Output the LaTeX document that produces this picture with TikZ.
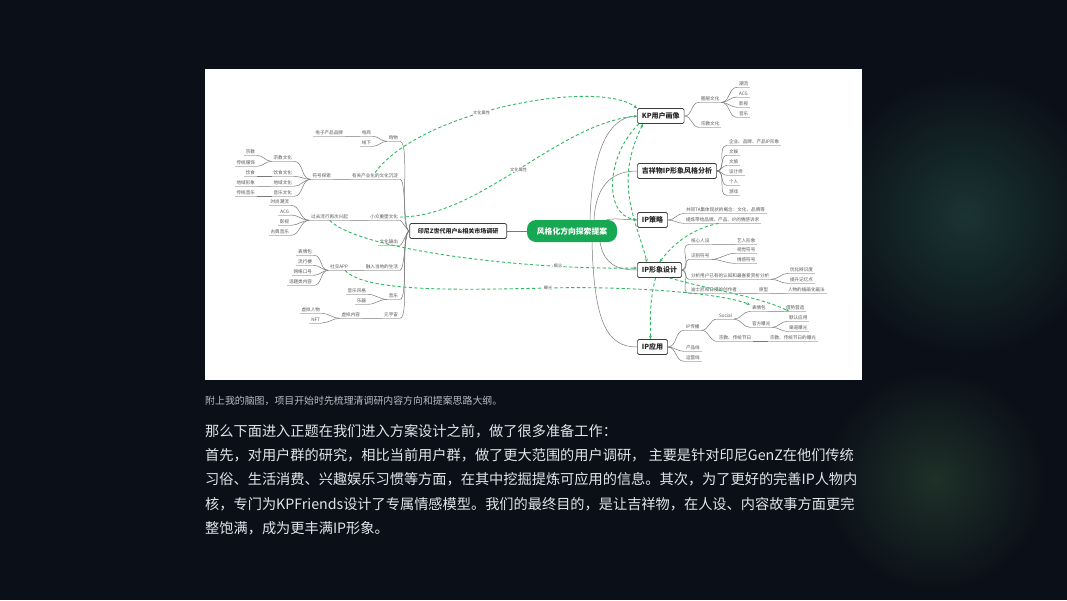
\documentclass[tikz,border=0pt]{standalone}
\usepackage{fontspec}
\setmainfont{Noto Sans CJK SC}
\usepackage{tikz}
\usetikzlibrary{positioning,arrows.meta,calc}
\definecolor{slidebg}{RGB}{11,16,24}
\definecolor{glowteal}{RGB}{26,52,50}
\definecolor{glowmoss}{RGB}{30,48,40}
\definecolor{mapgreen}{RGB}{22,168,82}
\definecolor{relgreen}{RGB}{46,184,96}
\definecolor{inkgray}{RGB}{85,85,85}
\definecolor{linegray}{RGB}{120,120,120}
\definecolor{ulgray}{RGB}{195,195,195}
\definecolor{paratext}{RGB}{226,229,234}
\definecolor{captext}{RGB}{185,189,196}

\tikzset{
  cnode/.style={fill=mapgreen, rounded corners=9pt, text=white, inner sep=0pt,
    font=\fontsize{7.8}{9}\selectfont\bfseries, minimum width=90pt, minimum height=22pt},
  mbox/.style={draw=inkgray!70!black, line width=0.7pt, rounded corners=1.5pt, fill=white,
    font=\fontsize{7}{8}\selectfont\bfseries, text=black!85, inner xsep=4.5pt, inner ysep=0pt,
    minimum height=15pt},
  uline/.style={draw=ulgray, line width=0.45pt},
  leaf/.style={font=\fontsize{4.6}{5}\selectfont, text=inkgray, inner xsep=1.8pt, inner ysep=1pt,
    append after command={(\tikzlastnode.south west) edge[uline] (\tikzlastnode.south east)}},
  tp/.style={draw=linegray, line width=0.5pt},
  rel/.style={draw=relgreen, line width=0.9pt, dash pattern=on 3.2pt off 2.4pt,
    -{Stealth[length=3.4pt,width=3pt]}},
  rlab/.style={font=\fontsize{4.2}{5}\selectfont, text=inkgray, fill=white, inner sep=0.6pt}
}

\begin{document}
\begin{tikzpicture}[x=1pt, y=-1pt]
  \useasboundingbox (0,0) rectangle (1067,600);
  \begin{scope}
    \clip (0,0) rectangle (1067,600);
    \fill[slidebg] (0,0) rectangle (1067,600);
    \shade[inner color=glowteal, outer color=slidebg] (965,215) circle (140pt);
    \shade[inner color=glowmoss, outer color=slidebg] (935,480) circle (110pt);
  \end{scope}

  % screenshot of the mind map
  \fill[white] (205,69) rectangle (862,380);

  \node[cnode] (core) at (572,231) {风格化方向探索提案};
  \node[mbox, font=\fontsize{6}{7}\selectfont\bfseries, minimum width=97pt, anchor=east]
      (survey) at (507,231) {印尼Z世代用户\&相关市场调研};

  \node[mbox, anchor=west] (persona)  at (637,116) {KP用户画像};
  \node[mbox, anchor=west] (style)    at (637,171) {吉祥物IP形象风格分析};
  \node[mbox, anchor=west] (strategy) at (637,220) {IP策略};
  \node[mbox, anchor=west] (design)   at (637,270) {IP形象设计};
  \node[mbox, anchor=west] (apply)    at (637,347) {IP应用};

  % right side leaves
  \node[leaf, anchor=west] (pCircle) at (699,99)  {圈层文化};
  \node[leaf, anchor=west] (pTrend)  at (737,84)  {潮流};
  \node[leaf, anchor=west] (pAcg)    at (737,94)  {ACG};
  \node[leaf, anchor=west] (pFilm)   at (737,104) {影视};
  \node[leaf, anchor=west] (pMusic)  at (737,114) {音乐};
  \node[leaf, anchor=west] (pFaith)  at (699,124) {宗教文化};

  \node[leaf, anchor=west] (sBrand)    at (727,142) {企业、品牌、产品IP形象};
  \node[leaf, anchor=west] (sEnt)      at (727,152) {文娱};
  \node[leaf, anchor=west] (sTour)     at (727,162) {文旅};
  \node[leaf, anchor=west] (sDesigner) at (727,172) {设计师};
  \node[leaf, anchor=west] (sPerson)   at (727,182) {个人};
  \node[leaf, anchor=west] (sGame)     at (727,192) {游戏};

  \node[leaf, anchor=west] (gConcept) at (684,210) {共同TA集体现状的概念：文化、品牌等};
  \node[leaf, anchor=west] (gEmotion) at (684,220) {提炼带给品牌、产品、IP的情感诉求};

  \node[leaf, anchor=west] (dCore)    at (689,241) {核心人设};
  \node[leaf, anchor=west] (dStar)    at (735,241) {艺人形象};
  \node[leaf, anchor=west] (dSign)    at (689,256) {识别符号};
  \node[leaf, anchor=west] (dVisual)  at (735,250) {视觉符号};
  \node[leaf, anchor=west] (dFeel)    at (735,260) {情感符号};
  \node[leaf, anchor=west] (dAnalyze) at (689,276) {分析用户已有的认知和最喜爱赏析分析};
  \node[leaf, anchor=west] (dRecog)   at (788,270) {优化辨识度};
  \node[leaf, anchor=west] (dMemory)  at (788,280) {提升记忆点};
  \node[leaf, anchor=west] (dCreator) at (689,290) {迪士尼和日漫的创作者};
  \node[leaf, anchor=west] (dProto)   at (757,290) {原型};
  \node[leaf, anchor=west] (dDraw)    at (786,290) {人物的插画化画法};

  \node[leaf, anchor=west] (aSpread)   at (684,327) {IP传播};
  \node[leaf, anchor=west] (aSocial)   at (717,316) {Social};
  \node[leaf, anchor=west] (aEmoji)    at (750,308) {表情包};
  \node[leaf, anchor=west] (aTrend)    at (784,308) {借势营造};
  \node[leaf, anchor=west] (aOfficial) at (750,324) {官方曝光};
  \node[leaf, anchor=west] (aDefault)  at (787,318) {默认应用};
  \node[leaf, anchor=west] (aChannel)  at (787,328) {渠道曝光};
  \node[leaf, anchor=west] (aFest)     at (717,338) {宗教、传统节日};
  \node[leaf, anchor=west] (aFestShow) at (768,338) {宗教、传统节日的曝光};
  \node[leaf, anchor=west] (aProduct)  at (684,348) {产品线};
  \node[leaf, anchor=west] (aOps)      at (684,358) {运营线};

  % left side leaves
  \node[leaf, anchor=east] (lShop)    at (400,138) {购物};
  \node[leaf, anchor=east] (lOnline)  at (373,133) {电商};
  \node[leaf, anchor=east] (lBrand)   at (345,133) {电子产品品牌};
  \node[leaf, anchor=east] (lOffline) at (373,143) {线下};

  \node[leaf, anchor=east] (lHeritage) at (400,176) {有关产业化的文化沉淀};
  \node[leaf, anchor=east] (lSymbol)   at (333,176) {符号探索};
  \node[leaf, anchor=east] (lReligion) at (294,158) {宗教文化};
  \node[leaf, anchor=east] (lFaith)    at (257,152) {宗教};
  \node[leaf, anchor=east] (lDress)    at (257,163) {传统服饰};
  \node[leaf, anchor=east] (lFood)     at (294,173) {饮食文化};
  \node[leaf, anchor=east] (lEat)      at (257,173) {饮食};
  \node[leaf, anchor=east] (lRegion)   at (294,183) {地域文化};
  \node[leaf, anchor=east] (lPlace)    at (257,183) {地域形象};
  \node[leaf, anchor=east] (lTune)     at (294,193) {音乐文化};
  \node[leaf, anchor=east] (lFolk)     at (257,193) {传统音乐};

  \node[leaf, anchor=east] (lNiche)    at (400,217) {小众重塑文化};
  \node[leaf, anchor=east] (lRevive)   at (350,217) {过去流行再次兴起};
  \node[leaf, anchor=east] (lFashion)  at (291,202) {时尚潮流};
  \node[leaf, anchor=east] (lAcg)      at (291,212) {ACG};
  \node[leaf, anchor=east] (lMovie)    at (291,222) {影视};
  \node[leaf, anchor=east] (lClassic)  at (291,232) {古典音乐};

  \node[leaf, anchor=east] (lExport)   at (400,242) {文化输出};

  \node[leaf, anchor=east] (lLocal)    at (400,267) {融入当地的生活};
  \node[leaf, anchor=east] (lApp)      at (350,267) {社交APP};
  \node[leaf, anchor=east] (lSticker)  at (314,252) {表情包};
  \node[leaf, anchor=east] (lMeme)     at (314,262) {流行梗};
  \node[leaf, anchor=east] (lSlogan)   at (314,272) {网络口号};
  \node[leaf, anchor=east] (lTopic)    at (314,282) {话题类内容};

  \node[leaf, anchor=east] (lMusic)    at (400,296) {音乐};
  \node[leaf, anchor=east] (lGenre)    at (368,291) {音乐风格};
  \node[leaf, anchor=east] (lInstr)    at (368,301) {乐器};

  \node[leaf, anchor=east] (lMeta)     at (400,315) {元宇宙};
  \node[leaf, anchor=east] (lVirtual)  at (362,315) {虚拟内容};
  \node[leaf, anchor=east] (lAvatar)   at (322,310) {虚拟人物};
  \node[leaf, anchor=east] (lNft)      at (322,320) {NFT};

  % tree lines
  \draw[tp] (survey.east) -- (core.west);
  \draw[tp] ([xshift=18pt]core.north) .. controls +(2,-70) and +(-28,0) .. (persona.west);
  \draw[tp] ([xshift=22pt]core.north) .. controls +(2,-38) and +(-22,0) .. (style.west);
  \draw[tp] (core.18) .. controls +(10,-2) and +(-10,0) .. (strategy.west);
  \draw[tp] ([xshift=28pt]core.south) .. controls +(4,22) and +(-20,0) .. (design.west);
  \draw[tp] ([xshift=20pt]core.south) .. controls +(2,80) and +(-30,0) .. (apply.west);

  \draw[tp] (persona.east) to[out=0,in=180] (pCircle.south west);
  \draw[tp] (persona.east) to[out=0,in=180] (pFaith.south west);
  \draw[tp] (pCircle.south east) to[out=0,in=180] (pTrend.south west);
  \draw[tp] (pCircle.south east) to[out=0,in=180] (pAcg.south west);
  \draw[tp] (pCircle.south east) to[out=0,in=180] (pFilm.south west);
  \draw[tp] (pCircle.south east) to[out=0,in=180] (pMusic.south west);

  \draw[tp] (style.east) to[out=0,in=180] (sBrand.south west);
  \draw[tp] (style.east) to[out=0,in=180] (sEnt.south west);
  \draw[tp] (style.east) to[out=0,in=180] (sTour.south west);
  \draw[tp] (style.east) to[out=0,in=180] (sDesigner.south west);
  \draw[tp] (style.east) to[out=0,in=180] (sPerson.south west);
  \draw[tp] (style.east) to[out=0,in=180] (sGame.south west);

  \draw[tp] (strategy.east) to[out=0,in=180] (gConcept.south west);
  \draw[tp] (strategy.east) to[out=0,in=180] (gEmotion.south west);

  \draw[tp] (design.east) to[out=0,in=180] (dCore.south west);
  \draw[tp] (design.east) to[out=0,in=180] (dSign.south west);
  \draw[tp] (design.east) to[out=0,in=180] (dAnalyze.south west);
  \draw[tp] (design.east) to[out=0,in=180] (dCreator.south west);
  \draw[tp] (dCore.south east) -- (dStar.south west);
  \draw[tp] (dSign.south east) to[out=0,in=180] (dVisual.south west);
  \draw[tp] (dSign.south east) to[out=0,in=180] (dFeel.south west);
  \draw[tp] (dAnalyze.south east) to[out=0,in=180] (dRecog.south west);
  \draw[tp] (dAnalyze.south east) to[out=0,in=180] (dMemory.south west);
  \draw[tp] (dCreator.south east) -- (dProto.south west);
  \draw[tp] (dProto.south east) -- (dDraw.south west);

  \draw[tp] (apply.east) to[out=0,in=180] (aSpread.south west);
  \draw[tp] (apply.east) to[out=0,in=180] (aProduct.south west);
  \draw[tp] (apply.east) to[out=0,in=180] (aOps.south west);
  \draw[tp] (aSpread.south east) to[out=0,in=180] (aSocial.south west);
  \draw[tp] (aSpread.south east) to[out=0,in=180] (aFest.south west);
  \draw[tp] (aSocial.south east) to[out=0,in=180] (aEmoji.south west);
  \draw[tp] (aSocial.south east) to[out=0,in=180] (aOfficial.south west);
  \draw[tp] (aEmoji.south east) -- (aTrend.south west);
  \draw[tp] (aOfficial.south east) to[out=0,in=180] (aDefault.south west);
  \draw[tp] (aOfficial.south east) to[out=0,in=180] (aChannel.south west);
  \draw[tp] (aFest.south east) -- (aFestShow.south west);

  \draw[tp] (survey.west) to[out=180,in=0,looseness=0.3] (lShop.south east);
  \draw[tp] (survey.west) to[out=180,in=0,looseness=0.3] (lHeritage.south east);
  \draw[tp] (survey.west) to[out=180,in=0,looseness=0.3] (lNiche.south east);
  \draw[tp] (survey.west) to[out=180,in=0,looseness=0.3] (lExport.south east);
  \draw[tp] (survey.west) to[out=180,in=0,looseness=0.3] (lLocal.south east);
  \draw[tp] (survey.west) to[out=180,in=0,looseness=0.3] (lMusic.south east);
  \draw[tp] (survey.west) to[out=180,in=0,looseness=0.3] (lMeta.south east);

  \draw[tp] (lShop.south west) to[out=180,in=0] (lOnline.south east);
  \draw[tp] (lShop.south west) to[out=180,in=0] (lOffline.south east);
  \draw[tp] (lOnline.south west) -- (lBrand.south east);
  \draw[tp] (lHeritage.south west) -- (lSymbol.south east);
  \draw[tp] (lSymbol.south west) to[out=180,in=0] (lReligion.south east);
  \draw[tp] (lSymbol.south west) to[out=180,in=0] (lFood.south east);
  \draw[tp] (lSymbol.south west) to[out=180,in=0] (lRegion.south east);
  \draw[tp] (lSymbol.south west) to[out=180,in=0] (lTune.south east);
  \draw[tp] (lReligion.south west) to[out=180,in=0] (lFaith.south east);
  \draw[tp] (lReligion.south west) to[out=180,in=0] (lDress.south east);
  \draw[tp] (lFood.south west) -- (lEat.south east);
  \draw[tp] (lRegion.south west) -- (lPlace.south east);
  \draw[tp] (lTune.south west) -- (lFolk.south east);
  \draw[tp] (lNiche.south west) -- (lRevive.south east);
  \draw[tp] (lRevive.south west) to[out=180,in=0] (lFashion.south east);
  \draw[tp] (lRevive.south west) to[out=180,in=0] (lAcg.south east);
  \draw[tp] (lRevive.south west) to[out=180,in=0] (lMovie.south east);
  \draw[tp] (lRevive.south west) to[out=180,in=0] (lClassic.south east);
  \draw[tp] (lLocal.south west) -- (lApp.south east);
  \draw[tp] (lApp.south west) to[out=180,in=0] (lSticker.south east);
  \draw[tp] (lApp.south west) to[out=180,in=0] (lMeme.south east);
  \draw[tp] (lApp.south west) to[out=180,in=0] (lSlogan.south east);
  \draw[tp] (lApp.south west) to[out=180,in=0] (lTopic.south east);
  \draw[tp] (lMusic.south west) to[out=180,in=0] (lGenre.south east);
  \draw[tp] (lMusic.south west) to[out=180,in=0] (lInstr.south east);
  \draw[tp] (lMeta.south west) -- (lVirtual.south east);
  \draw[tp] (lVirtual.south west) to[out=180,in=0] (lAvatar.south east);
  \draw[tp] (lVirtual.south west) to[out=180,in=0] (lNft.south east);

  % relation lines
  \draw[rel] (lHeritage.north) .. controls +(45,-62) and +(-40,-30) .. (persona.north west)
      node[rlab, pos=0.42] {文化属性};
  \draw[rel] (lNiche.east) .. controls +(80,0) and +(-80,8) .. (persona.west)
      node[rlab, pos=0.5] {文化属性};
  \draw[rel] ([xshift=2pt]persona.south west) .. controls +(-32,30) and +(-35,-5) .. (strategy.west);
  \draw[rel, {Stealth[length=3.4pt,width=3pt]}-{Stealth[length=3.4pt,width=3pt]}]
      ([xshift=6pt]persona.south west) .. controls +(-30,60) and +(-10,-40) .. ([xshift=10pt]design.north west);
  \draw[rel] ([xshift=-4pt]gEmotion.south) .. controls +(-25,5) and +(15,-20) .. (design.north);
  \draw[rel] (lRevive.south) .. controls +(30,30) and +(-110,2) .. ([yshift=2pt]design.west)
      node[rlab, pos=0.78] {概念};
  \draw[rel] ([xshift=6pt]lApp.south) .. controls +(20,22) and +(-90,2) .. (548,288)
      node[rlab] {曝光} .. controls +(80,-2) and +(-30,-12) .. (aEmoji.north west);
  \draw[rel] ([xshift=10pt]design.south) .. controls +(40,12) and +(-30,-15) .. ([xshift=5pt]aTrend.south west);
  \draw[rel] ([xshift=-4pt]design.south) .. controls +(-6,25) and +(0,-25) .. ([xshift=-2pt]apply.north);

  % text below the screenshot
  \node[anchor=west, inner sep=0pt, text=captext, font=\fontsize{9.9}{11}\selectfont]
      (caption) at (205,401) {附上我的脑图，项目开始时先梳理清调研内容方向和提案思路大纲。};
  \node[anchor=north west, inner sep=0pt, align=left, text=paratext,
        font=\fontsize{14.2}{24.3}\selectfont] (intro) at (205,424)
      {那么下面进入正题在我们进入方案设计之前，做了很多准备工作：\\
       首先，对用户群的研究，相比当前用户群，做了更大范围的用户调研， 主要是针对印尼GenZ在他们传统\\
       习俗、生活消费、兴趣娱乐习惯等方面，在其中挖掘提炼可应用的信息。其次，为了更好的完善IP人物内\\
       核，专门为KPFriends设计了专属情感模型。我们的最终目的，是让吉祥物，在人设、内容故事方面更完\\
       整饱满，成为更丰满IP形象。};
\end{tikzpicture}
\end{document}
